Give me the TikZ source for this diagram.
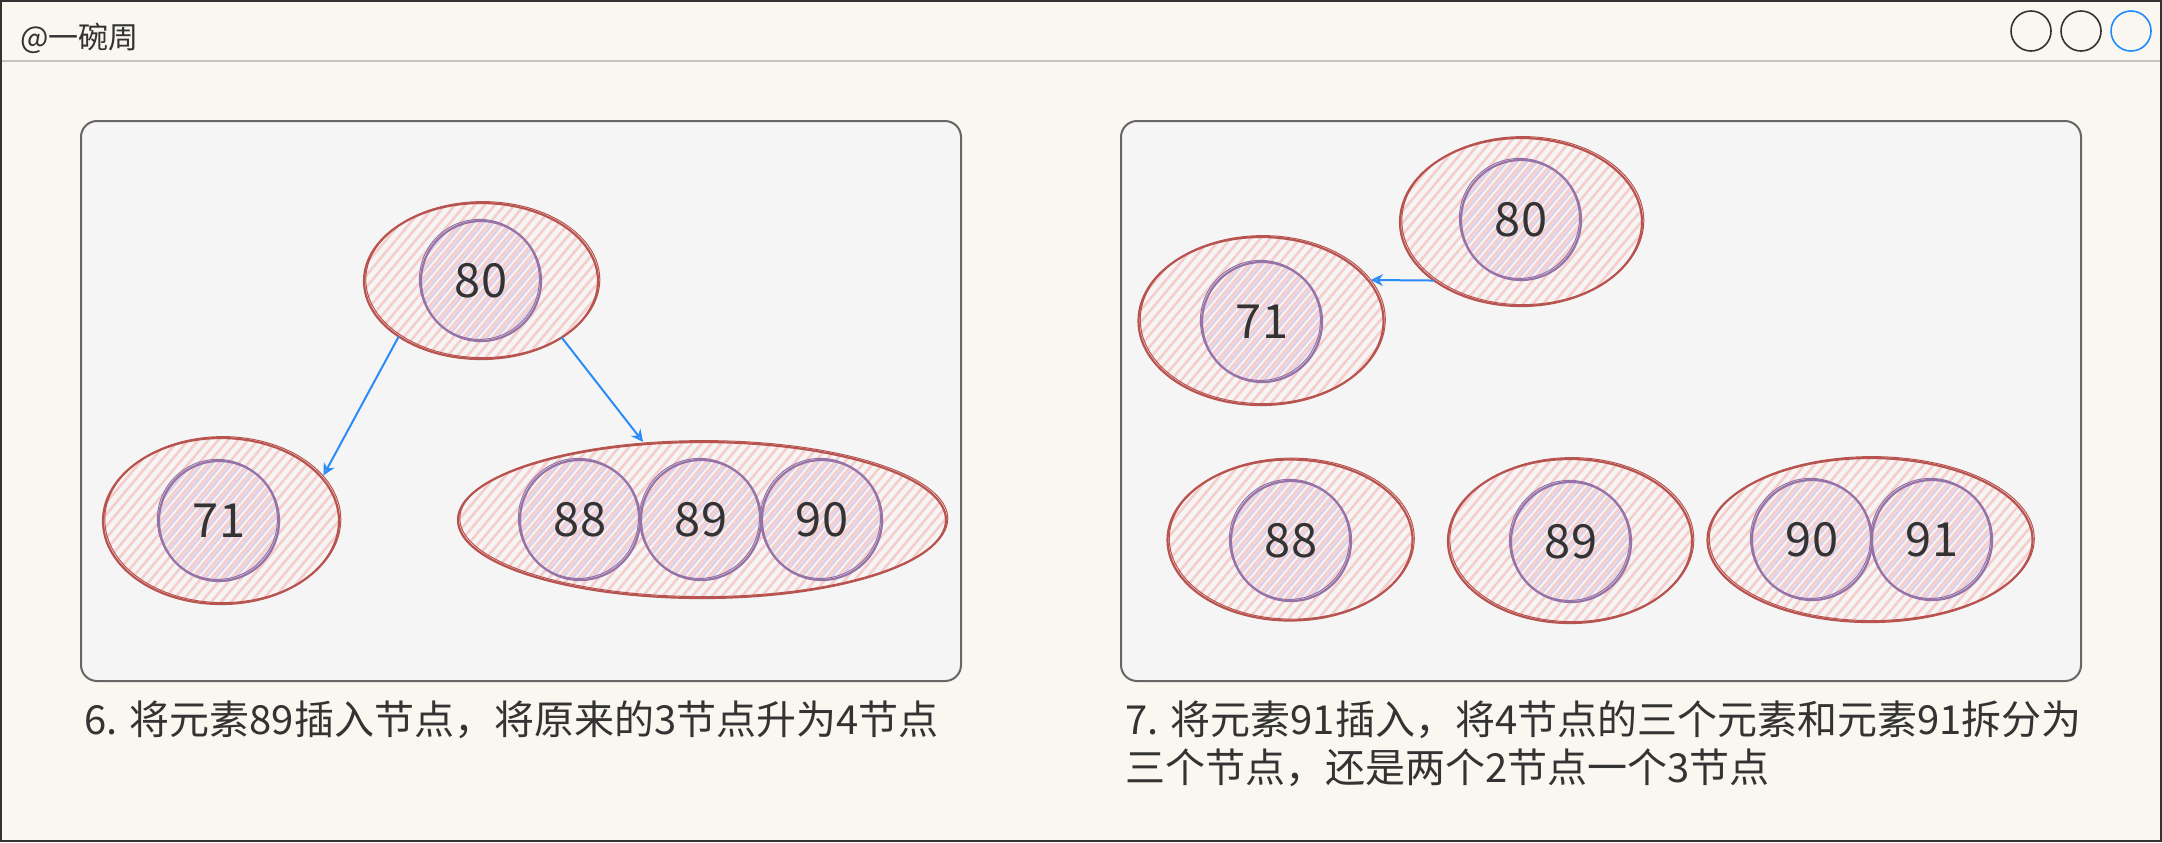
\documentclass[tikz,border=0pt]{standalone}
\usepackage{fontspec}
\setmainfont{Noto Sans CJK SC}
\usetikzlibrary{shapes.geometric,patterns.meta,arrows.meta}
\definecolor{bg}{HTML}{F9F7EF}
\definecolor{frame}{HTML}{333333}
\definecolor{sep}{HTML}{C4C4C4}
\definecolor{panelfill}{HTML}{F5F5F5}
\definecolor{panelline}{HTML}{666666}
\definecolor{redline}{HTML}{B85450}
\definecolor{pinkhatch}{HTML}{F7CDCA}
\definecolor{purpline}{HTML}{9673A6}
\definecolor{lavhatch}{HTML}{DDD0E8}
\definecolor{arrowblue}{HTML}{2A8CF7}
\definecolor{txt}{HTML}{333333}
\definecolor{dotblue}{HTML}{1E8CFF}
\tikzset{
  panel/.style={draw=panelline, fill=panelfill, line width=1pt, rounded corners=8pt, inner sep=0pt, outer sep=0pt},
  outerell/.style={ellipse, draw=redline, line width=1.1pt, inner sep=0pt, outer sep=0pt,
    pattern={Lines[angle=50,distance=3.8pt,line width=1.3pt]}, pattern color=pinkhatch,
    postaction={draw=redline, line width=0.5pt, transform canvas={xshift=0.9pt,yshift=0.7pt}}},
  keycirc/.style={circle, draw=purpline, line width=1.1pt, minimum size=60pt, inner sep=0pt, outer sep=0pt,
    pattern={Lines[angle=50,distance=3.8pt,line width=1.2pt,xshift=1.9pt]}, pattern color=lavhatch,
    postaction={draw=purpline, line width=0.5pt, transform canvas={xshift=-0.8pt,yshift=0.8pt}},
    text=txt, font=\fontsize{23.5}{23.5}\selectfont},
  link/.style={draw=arrowblue, line width=1pt, -{Stealth[open,length=6pt,width=6pt]}, shorten >=1.5pt},
  caption/.style={anchor=west, inner sep=0pt, text=txt, font=\fontsize{20}{24}\selectfont},
  winbtn/.style={circle, draw=frame, line width=0.8pt, minimum size=20pt, inner sep=0pt},
}
\begin{document}
\begin{tikzpicture}[x=0.5pt,y=-0.5pt]
\useasboundingbox (0,0) rectangle (2162,842);
\fill[bg] (0,0) rectangle (2162,842);
\draw[sep, line width=0.8pt] (2,61) -- (2160,61);
\draw[frame, line width=1pt] (1,1) rectangle (2161,841);
\node[anchor=west, inner sep=0pt, text=txt, font=\fontsize{15}{15}\selectfont] (title) at (20,38) {@一碗周};
\node[winbtn] (b1) at (2031,31) {};
\node[winbtn] (b2) at (2081,31) {};
\node[winbtn, draw=dotblue] (b3) at (2131,31) {};

% panels
\node[panel, minimum width=440pt, minimum height=280pt] (p1) at (521,401) {};
\node[panel, minimum width=480pt, minimum height=280pt] (p2) at (1601,401) {};

% left panel
\node[outerell, minimum width=117pt, minimum height=78pt] (e80) at (481,281) {};
\node[outerell, minimum width=118pt, minimum height=83pt] (e71) at (221,521) {};
\node[outerell, minimum width=244pt, minimum height=78pt] (e3) at (702,520) {};
\node[keycirc] (c80) at (481,281) {80};
\node[keycirc] (c71) at (219,521) {71};
\node[keycirc] (c88) at (580,520) {88};
\node[keycirc] (c89) at (701,520) {89};
\node[keycirc] (c90) at (822,520) {90};
\draw[link] (e80.214) -- (e71.23);
\draw[link] (e80.325) -- (e3.127);

% right panel
\node[outerell, minimum width=121pt, minimum height=84pt] (f80) at (1521,222) {};
\node[outerell, minimum width=122.5pt, minimum height=84pt] (f71) at (1261,321) {};
\node[outerell, minimum width=122.5pt, minimum height=80.5pt] (f88) at (1290,540) {};
\node[outerell, minimum width=122pt, minimum height=82pt] (f89) at (1570,541) {};
\node[outerell, minimum width=162.5pt, minimum height=82pt] (f9091) at (1870,540) {};
\node[keycirc] (d80) at (1521,220) {80};
\node[keycirc] (d71) at (1262,322) {71};
\node[keycirc] (d88) at (1291,541) {88};
\node[keycirc] (d89) at (1571,542) {89};
\node[keycirc] (d90) at (1812,540) {90};
\node[keycirc] (d91) at (1932,540) {91};
\draw[link] (f80.214) -- (f71.21);

% captions
\node[caption] (cap1) at (84,720) {6. 将元素89插入节点，将原来的3节点升为4节点};
\node[caption] (cap2a) at (1125,720) {7. 将元素91插入，将4节点的三个元素和元素91拆分为};
\node[caption] (cap2b) at (1125,768) {三个节点，还是两个2节点一个3节点};
\end{tikzpicture}
\end{document}
